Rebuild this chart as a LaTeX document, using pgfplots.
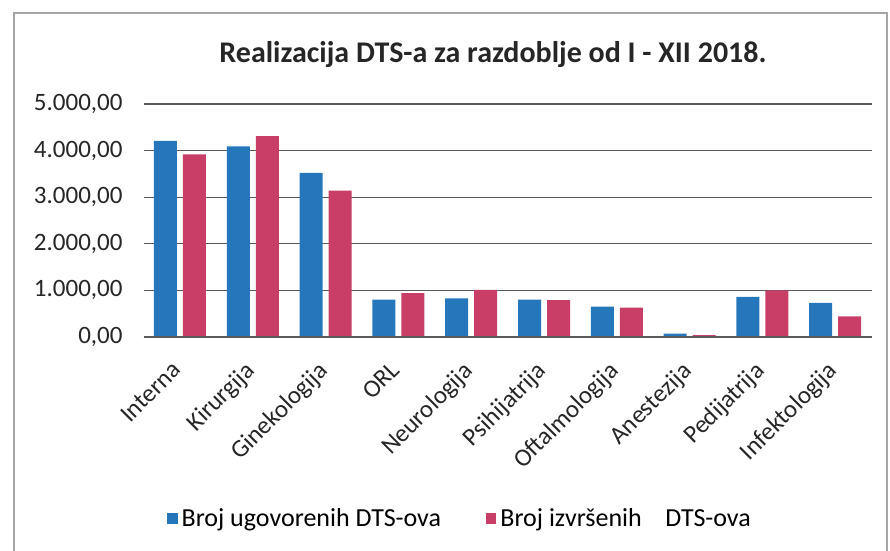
\documentclass[border=0pt]{standalone}
\usepackage{pgfplots}
\pgfplotsset{compat=1.18}
\usepackage{fontspec}
\setmainfont{Carlito}

\definecolor{plavo}{RGB}{38,118,188}
\definecolor{crveno}{RGB}{201,62,102}
\definecolor{mreza}{RGB}{90,90,90}

\begin{document}
\begin{tikzpicture}
\useasboundingbox (0pt,0pt) rectangle (445pt,275.5pt);
\draw[gray!70, line width=0.6pt] (7pt,-5pt) -- (7pt,269pt) -- (443.5pt,269pt) -- (443.5pt,-5pt);
\begin{axis}[
    at={(71.8pt,107pt)}, anchor=south west,
    scale only axis,
    width=364pt, height=116.5pt,
    ybar=3pt,
    bar width=11.5pt,
    xmin=-0.5, xmax=9.5,
    ymin=0, ymax=5000,
    ytick={0,1000,...,5000},
    xtick=data,
    xticklabels={Interna,Kirurgija,Ginekologija,ORL,Neurologija,Psihijatrija,Oftalmologija,Anestezija,Pedijatrija,Infektologija},
    major tick length=0pt,
    axis x line*=bottom,
    axis y line*=left,
    axis line style={draw=none},
    ymajorgrids,
    grid style={mreza, line width=0.6pt},
    tick label style={font=\fontsize{12.5}{14}\selectfont, black!85},
    /pgf/number format/assume math mode=true,
    yticklabel={\pgfmathprintnumber[fixed, fixed zerofill, precision=2, use comma, 1000 sep={.}]{\tick}},
    yticklabel style={anchor=east, xshift=-7pt},
    xticklabel style={xshift=-4.5pt, yshift=-6.6pt, rotate=45, anchor=north east},
    legend style={draw=none, at={(rel axis cs:0.436,-0.78)}, anchor=center,
        legend columns=2, font=\fontsize{13}{15}\selectfont,
        /tikz/every even column/.append style={column sep=20.5pt}},
    legend image code/.code={\fill[#1] (0pt,-2.8pt) rectangle (5.2pt,2.8pt);},
    clip=false,
]
\addplot[draw=none, fill=plavo] coordinates {
(0,4210) (1,4090) (2,3520) (3,800) (4,830) (5,800) (6,650) (7,75) (8,860) (9,730)};
\addplot[draw=none, fill=crveno] coordinates {
(0,3920) (1,4310) (2,3140) (3,940) (4,1010) (5,790) (6,630) (7,40) (8,1000) (9,440)};
\draw[mreza, line width=0.6pt] (rel axis cs:0,0) -- (rel axis cs:1,0);
\legend{Broj ugovorenih DTS-ova, Broj izvršenih\ \ \ \ DTS-ova}
\end{axis}
\node[font=\bfseries\fontsize{15}{18}\selectfont, black!85] at (246.5pt,248pt) {Realizacija DTS-a za razdoblje od I - XII 2018.};
\end{tikzpicture}
\end{document}
